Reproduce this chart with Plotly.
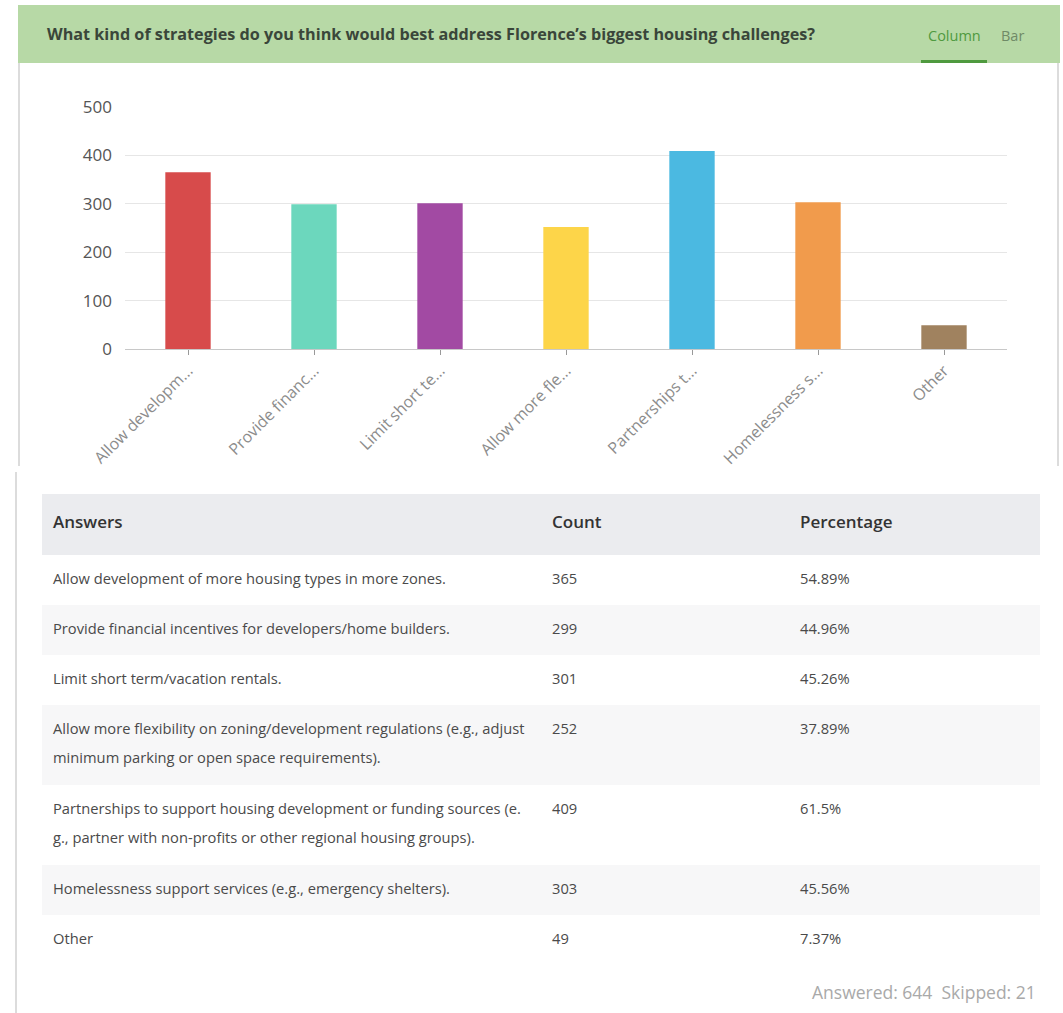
import plotly.graph_objects as go

# ---------------- data ----------------
answers = [
    "Allow development of more housing types in more zones.",
    "Provide financial incentives for developers/home builders.",
    "Limit short term/vacation rentals.",
    "Allow more flexibility on zoning/development regulations (e.g., adjust\nminimum parking or open space requirements).",
    "Partnerships to support housing development or funding sources (e.\ng., partner with non-profits or other regional housing groups).",
    "Homelessness support services (e.g., emergency shelters).",
    "Other",
]
short_labels = [
    "Allow developm...",
    "Provide financ...",
    "Limit short te...",
    "Allow more fle...",
    "Partnerships t...",
    "Homelessness s...",
    "Other",
]
counts = [365, 299, 301, 252, 409, 303, 49]
percentages = ["54.89%", "44.96%", "45.26%", "37.89%", "61.5%", "45.56%", "7.37%"]
column_headers = ["Answers", "Count", "Percentage"]
bar_colors = ["#d74b4b", "#6cd7bd", "#a24aa3", "#fdd549", "#4bb9e1", "#f19b4c", "#a0825f"]
title_text = "What kind of strategies do you think would best address Florence\u2019s biggest housing challenges?"
answered, skipped = 644, 21

# ---------------- page geometry ----------------
W, H = 1063, 1013
FONT = "Open Sans"


def px(x):
    return x / W


def py(y):
    return 1 - y / H


# table style
TABLE_LEFT, TABLE_RIGHT, TABLE_TOP = 42, 1040, 494
HEADER_H, ROW_H, EXTRA_LINE_H, LINE_GAP, TEXT_TOP = 61, 50, 30, 29, 25
COL_X = [11, 510, 758]
HEADER_FILL, ALT_FILL = "#ebecef", "#f7f7f8"

row_lines = [a.split("\n") for a in answers]
row_heights = [ROW_H + EXTRA_LINE_H * (len(lines) - 1) for lines in row_lines]
row_tops = []
acc = HEADER_H
for h in row_heights:
    row_tops.append(acc)
    acc += h
TABLE_H = acc
TABLE_W = TABLE_RIGHT - TABLE_LEFT

fig = go.Figure()

# ---------------- bar chart ----------------
fig.add_trace(go.Bar(
    x=short_labels, y=counts,
    marker=dict(color=bar_colors, line=dict(width=0)),
    customdata=[a.replace("\n", "") for a in answers],
    hovertemplate="%{customdata}<br>%{y}<extra></extra>",
    showlegend=False,
))

# ---------------- table (own hidden axes, units = pixels) ----------------
ans_x, ans_y, ans_t = [], [], []
for top, lines in zip(row_tops, row_lines):
    for j, line in enumerate(lines):
        ans_x.append(COL_X[0])
        ans_y.append(top + TEXT_TOP + LINE_GAP * j)
        ans_t.append(line)

body_font = dict(family=FONT, size=14.7, color="#4a4a4a")
common = dict(mode="text", textposition="middle right", xaxis="x2", yaxis="y2",
              hoverinfo="skip", showlegend=False, cliponaxis=False)
fig.add_trace(go.Scatter(x=ans_x, y=ans_y, text=ans_t, textfont=body_font, **common))
fig.add_trace(go.Scatter(x=[COL_X[1]] * len(counts), y=[t + TEXT_TOP for t in row_tops],
                         text=[str(c) for c in counts], textfont=body_font, **common))
fig.add_trace(go.Scatter(x=[COL_X[2]] * len(percentages), y=[t + TEXT_TOP for t in row_tops],
                         text=percentages, textfont=body_font, **common))
fig.add_trace(go.Scatter(x=COL_X, y=[HEADER_H / 2 - 1] * 3, text=column_headers,
                         textfont=dict(family=FONT, size=17, color="#333333", weight=600),
                         **common))

shapes = [
    dict(type="rect", xref="x2", yref="y2", x0=0, x1=TABLE_W, y0=0, y1=HEADER_H,
         fillcolor=HEADER_FILL, line=dict(width=0), layer="below"),
]
for i, (top, h) in enumerate(zip(row_tops, row_heights)):
    if i % 2 == 1:
        shapes.append(dict(type="rect", xref="x2", yref="y2", x0=0, x1=TABLE_W, y0=top, y1=top + h,
                           fillcolor=ALT_FILL, line=dict(width=0), layer="below"))

shapes += [
    # header band
    dict(type="rect", xref="paper", yref="paper", x0=px(18), x1=px(1060), y0=py(63), y1=py(5),
         fillcolor="#b7d9a6", line=dict(width=0), layer="below"),
    dict(type="line", xref="paper", yref="paper", x0=px(921), x1=px(987), y0=py(61.5), y1=py(61.5),
         line=dict(color="#4f9a3f", width=3)),
    # card borders
    dict(type="line", xref="paper", yref="paper", x0=px(19), x1=px(19), y0=py(63), y1=py(466),
         line=dict(color="#dcdcdc", width=2)),
    dict(type="line", xref="paper", yref="paper", x0=px(1058), x1=px(1058), y0=py(63), y1=py(466),
         line=dict(color="#dcdcdc", width=2)),
    dict(type="line", xref="paper", yref="paper", x0=px(16), x1=px(16), y0=py(472), y1=py(1013),
         line=dict(color="#dcdcdc", width=2)),
]

annotations = [
    dict(text="<b>" + title_text + "</b>", xref="paper", yref="paper", x=px(45), y=py(34),
         xanchor="left", yanchor="middle", showarrow=False,
         font=dict(family=FONT, size=16.2, color="#3a463a")),
    dict(text="Column", xref="paper", yref="paper", x=px(954), y=py(36),
         xanchor="center", yanchor="middle", showarrow=False,
         font=dict(family=FONT, size=14.5, color="#4f9a3f")),
    dict(text="Bar", xref="paper", yref="paper", x=px(1012), y=py(36),
         xanchor="center", yanchor="middle", showarrow=False,
         font=dict(family=FONT, size=14.5, color="#6f8a66")),
    dict(text=f"Answered: {answered}\u00a0 Skipped: {skipped}", xref="paper", yref="paper",
         x=px(1038), y=py(992), xanchor="right", yanchor="middle", showarrow=False,
         font=dict(family=FONT, size=17.5, color="#a9a9a9")),
]

fig.update_layout(
    width=W, height=H,
    margin=dict(l=0, r=0, t=0, b=0, pad=0, autoexpand=False),
    paper_bgcolor="white", plot_bgcolor="rgba(0,0,0,0)",
    font=dict(family=FONT),
    bargap=0.64,
    shapes=shapes, annotations=annotations,
    xaxis=dict(domain=[px(125), px(1007)], showgrid=False, automargin=False,
               showline=True, linecolor="#c8c8c8", linewidth=1,
               ticks="outside", ticklen=5, tickcolor="#999999",
               tickangle=-45, tickfont=dict(family=FONT, size=16, color="#8c8c8c")),
    yaxis=dict(domain=[py(349), py(107)], range=[0, 500], dtick=100, automargin=False,
               showgrid=True, gridcolor="#e6e6e6", gridwidth=1, zeroline=False,
               showline=False, ticks="", ticklabelstandoff=12,
               tickfont=dict(family=FONT, size=17, color="#555555")),
    xaxis2=dict(domain=[px(TABLE_LEFT), px(TABLE_RIGHT)], range=[0, TABLE_W], visible=False,
                fixedrange=True, automargin=False),
    yaxis2=dict(domain=[py(TABLE_TOP + TABLE_H), py(TABLE_TOP)], range=[TABLE_H, 0], visible=False,
                fixedrange=True, automargin=False),
)

fig.write_html(
    "out.html",
    post_script="document.body.style.margin='0';"
                "document.body.style.overflow='hidden';"
                "document.documentElement.style.overflow='hidden';",
)
